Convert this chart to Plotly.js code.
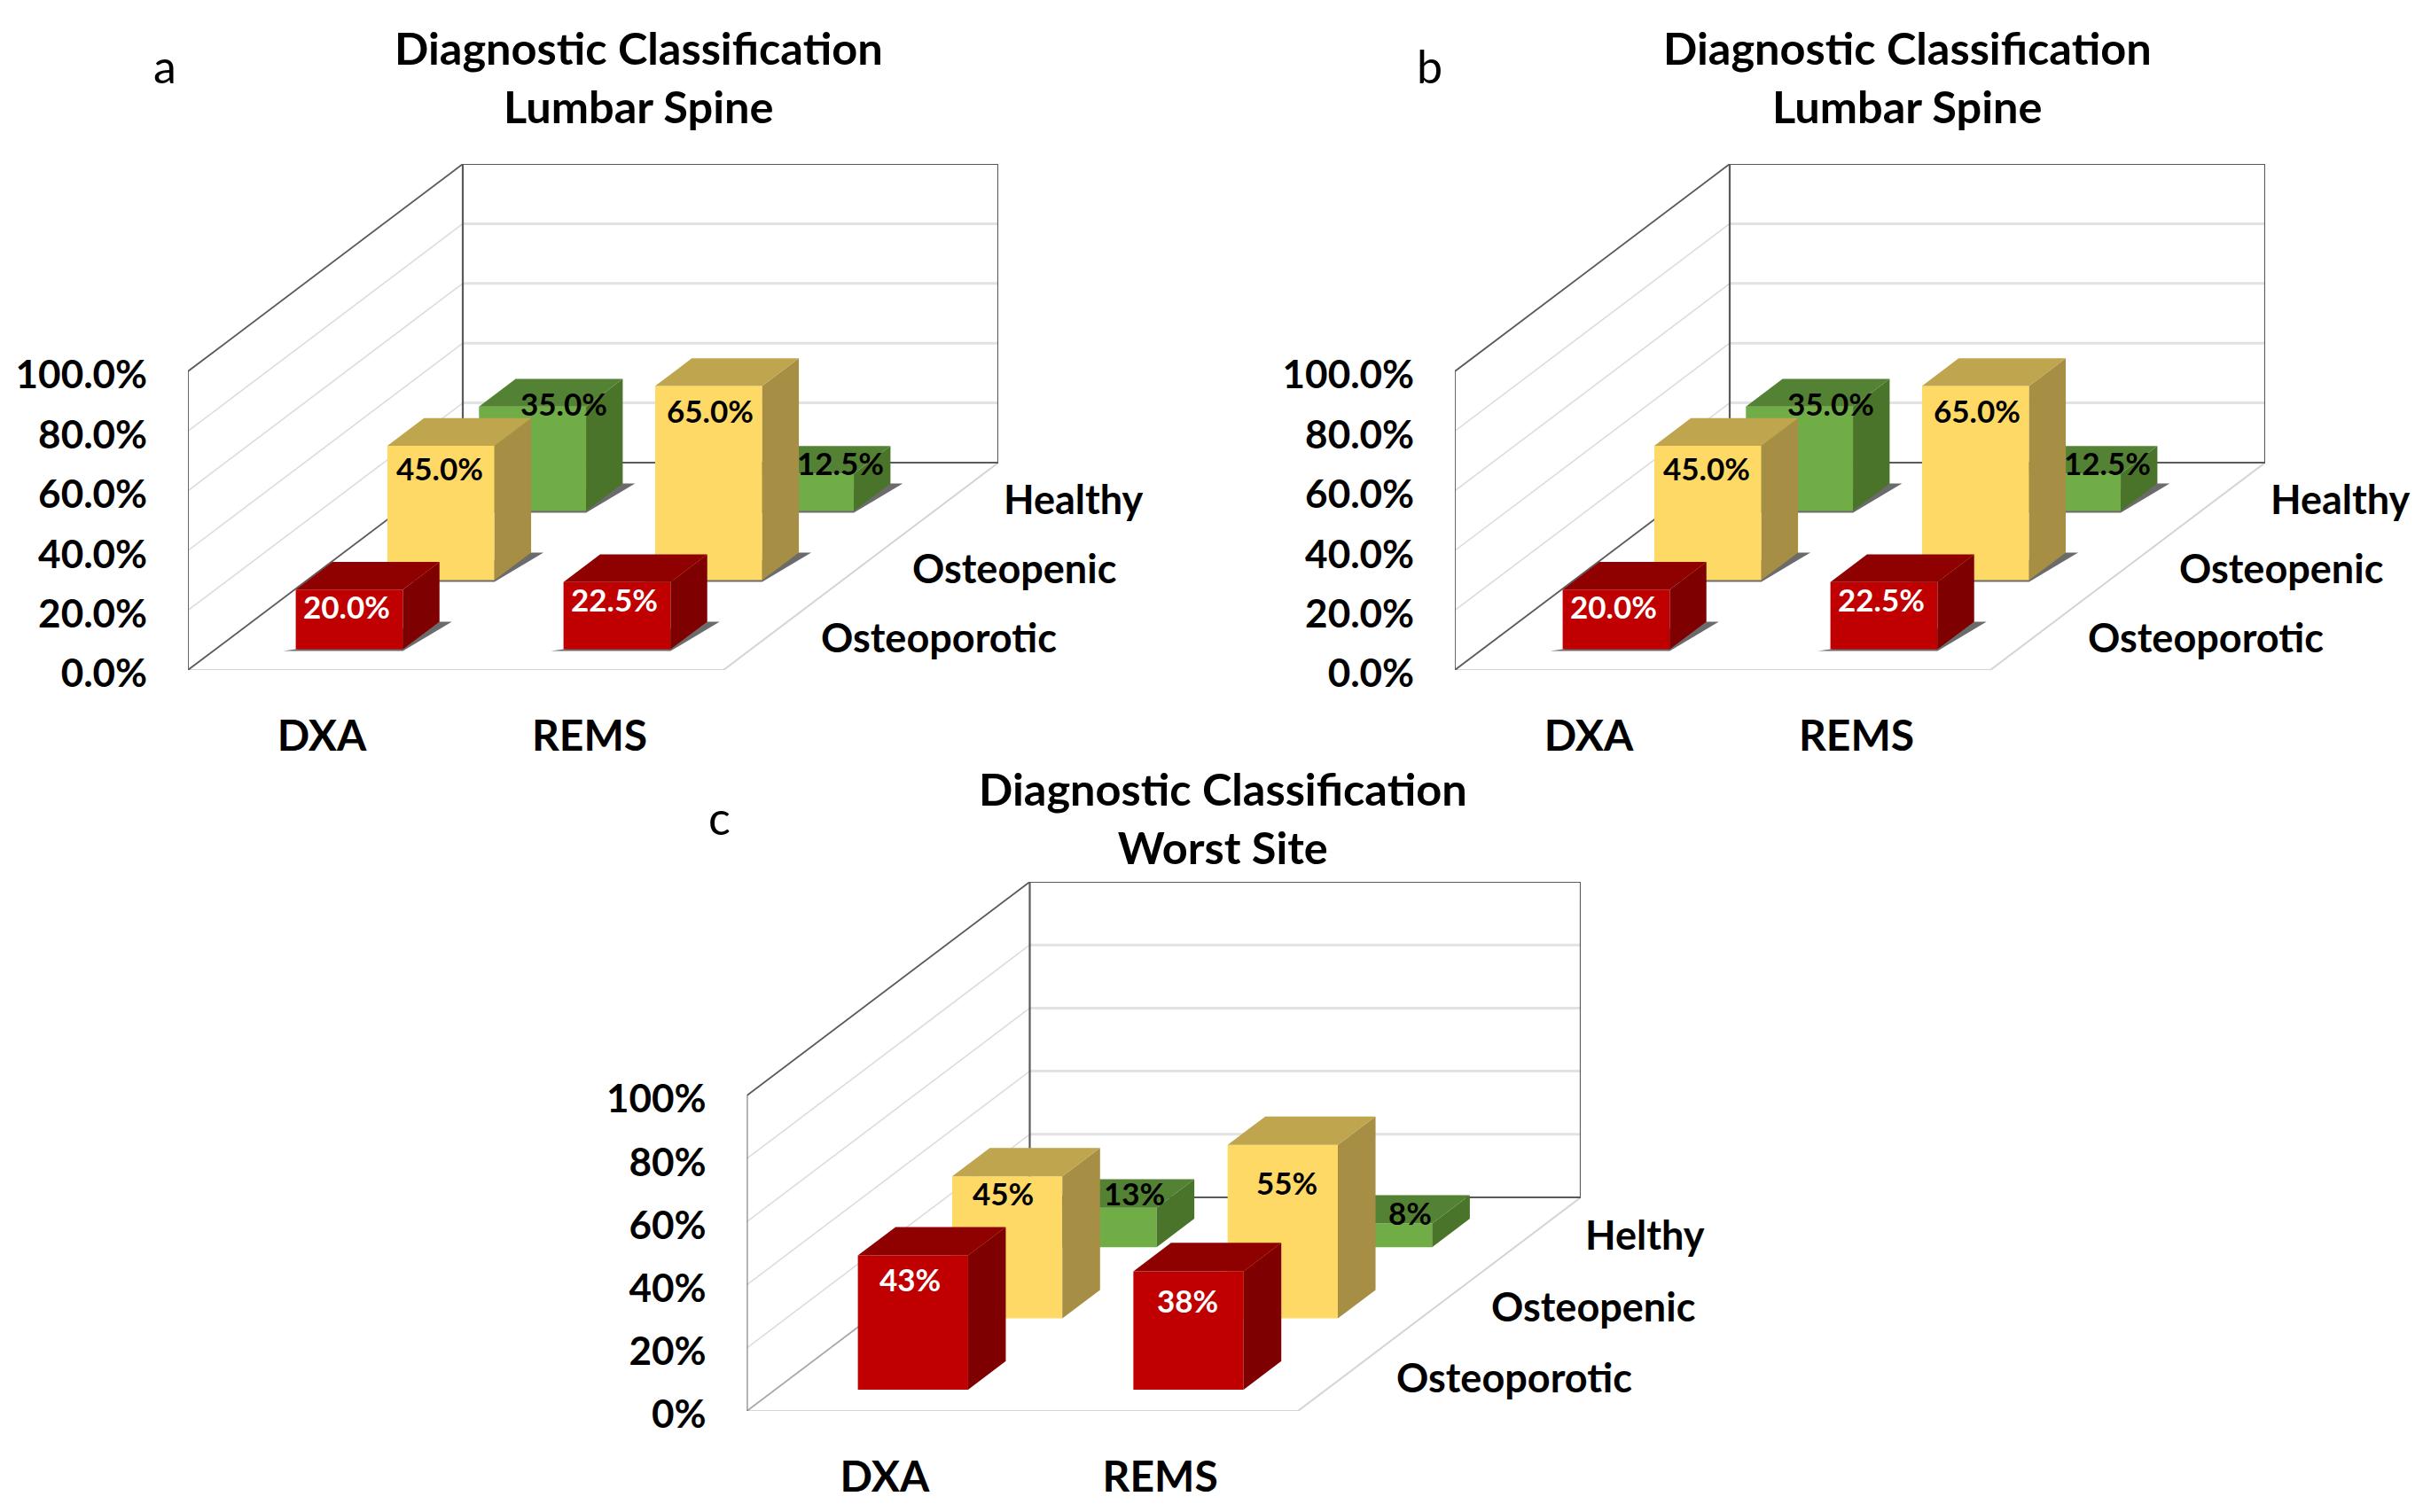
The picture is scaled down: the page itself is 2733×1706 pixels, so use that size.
<!DOCTYPE html>
<html><head><meta charset="utf-8">
<script src="https://cdn.plot.ly/plotly-3.0.1.min.js"></script>
<style>html,body{margin:0;padding:0;background:#fff}#c{width:2733px;height:1706px}</style>
</head><body><div id="c"></div>
<script>
// ---- data ----
const groups = ['DXA', 'REMS'];
const seriesA = ['Osteoporotic', 'Osteopenic', 'Healthy'];
const seriesC = ['Osteoporotic', 'Osteopenic', 'Helthy'];
const osteoporoticAB = [20.0, 22.5];
const osteopenicAB = [45.0, 65.0];
const healthyAB = [35.0, 12.5];
const osteoporoticC = [42.5, 37.5];
const osteopenicC = [45.0, 55.0];
const healthyC = [12.5, 7.5];
const textOsteoporoticAB = ['20.0%', '22.5%'];
const textOsteopenicAB = ['45.0%', '65.0%'];
const textHealthyAB = ['35.0%', '12.5%'];
const textOsteoporoticC = ['43%', '38%'];
const textOsteopenicC = ['45%', '55%'];
const textHealthyC = ['13%', '8%'];
const tickValues = [0, 20, 40, 60, 80, 100];
const tickTextAB = ['0.0%', '20.0%', '40.0%', '60.0%', '80.0%', '100.0%'];
const tickTextC = ['0%', '20%', '40%', '60%', '80%', '100%'];
const titleA = 'Diagnostic Classification<br>Lumbar Spine';
const titleC = 'Diagnostic Classification<br>Worst Site';

// ---- layout / style ----
const W = 2733, H = 1706;
const FONT = 'Lato, Carlito, sans-serif';
const faceColors = [
  {front:'#C00000', top:'#8F0000', side:'#7F0000', text:'#ffffff'},
  {front:'#FFD966', top:'#BFA54E', side:'#A68F45', text:'#000000'},
  {front:'#70AD47', top:'#548235', side:'#4A7429', text:'#000000'}
];
const DARK = '#5a5a5a', GRID = '#e2e2e2', WALLGRID = '#dcdcdc';
const shiftsAB = [[[-3,-19],[-3,-19]], [[-1,-25],[2,-27]], [[35,4],[45,12]]];
const shiftsC = [[[-3,-26],[-1,-33]], [[-5,-19],[5,-42]], [[37,17],[37,13]]];
const panels = [
 {id:'', x0:212, yb:756, w:604, dx:310, dy:234, ppu:3.37, vals:[osteoporoticAB,osteopenicAB,healthyAB],
  txt:[textOsteoporoticAB,textOsteopenicAB,textHealthyAB], ticks:tickTextAB, names:seriesA, shifts:shiftsAB, shadow:true,
  title:titleA, tx:720, ty:87, letter:'a', lx:186, ly:74, xs:56},
 {id:'2', x0:1641, yb:756, w:604, dx:310, dy:234, ppu:3.37, vals:[osteoporoticAB,osteopenicAB,healthyAB],
  txt:[textOsteoporoticAB,textOsteopenicAB,textHealthyAB], ticks:tickTextAB, names:seriesA, shifts:shiftsAB, shadow:true,
  title:titleA, tx:2151, ty:87, letter:'b', lx:1612, ly:74, xs:56},
 {id:'3', x0:842.5, yb:1592, w:621.5, dx:319, dy:241, ppu:3.56, vals:[osteoporoticC,osteopenicC,healthyC],
  txt:[textOsteoporoticC,textOsteopenicC,textHealthyC], ticks:tickTextC, names:seriesC, shifts:shiftsC, shadow:false,
  title:titleC, tx:1379, ty:922, letter:'c', lx:812, ly:922, xs:56}
];
const BW = 0.4, BD = 0.4 / 3;

const traces = [], annotations = [], layout = {
  width:W, height:H, margin:{l:0,r:0,t:0,b:0}, showlegend:false,
  paper_bgcolor:'#fff', plot_bgcolor:'rgba(0,0,0,0)', font:{family:FONT, color:'#000'}, hovermode:false
};

panels.forEach(p => {
  const xa = 'x'+p.id, ya = 'y'+p.id;
  const catW = p.w / 2, depthX = p.dx / catW, depthV = p.dy / p.ppu, vMax = (p.dy + 100*p.ppu) / p.ppu;
  const PX = (c, d) => c + d*depthX;
  const PY = (v, d) => v + d*depthV;
  layout['xaxis'+p.id] = {
    anchor:ya, domain:[p.x0/W, (p.x0+p.w+p.dx)/W], range:[0, 2+depthX], fixedrange:true,
    showgrid:false, zeroline:false, showline:false, ticks:'outside', ticklen:32, tickcolor:'rgba(0,0,0,0)',
    tickvals:[0.5,1.5], ticktext:groups, tickfont:{family:FONT, size:48, color:'#000', weight:700}
  };
  layout['yaxis'+p.id] = {
    anchor:xa, domain:[1-p.yb/H, 1-(p.yb-vMax*p.ppu)/H], range:[0, vMax], fixedrange:true,
    showgrid:false, zeroline:false, showline:false, ticks:'outside', ticklen:36, tickcolor:'rgba(0,0,0,0)',
    tickvals:tickValues, ticktext:p.ticks, tickfont:{family:FONT, size:44, color:'#000', weight:700}, ticklabelshift:4
  };
  const line = (xs, ys, color, width) => traces.push({type:'scatter', mode:'lines', xaxis:xa, yaxis:ya, x:xs, y:ys,
     line:{color, width}, hoverinfo:'skip', showlegend:false});
  const poly = (xs, ys, color) => traces.push({type:'scatter', mode:'lines', xaxis:xa, yaxis:ya, x:xs, y:ys, fill:'toself',
     fillcolor:color, line:{width:0, color}, hoverinfo:'skip', showlegend:false});

  // walls and gridlines
  tickValues.slice(1,-1).forEach(v => {
    line([PX(2,1),PX(0,1)],[PY(v,1),PY(v,1)], GRID, 3);
    line([PX(0,1),PX(0,0)],[PY(v,1),PY(v,0)], WALLGRID, 1.6);
  });
  line([PX(0,0),PX(2,0),PX(2,1)],[PY(0,0),PY(0,0),PY(0,1)], '#d4d4d4', 2);
  line([PX(0,0),PX(0,1)],[PY(0,0),PY(0,1)], p.shadow ? DARK : '#a8a8a8', 1.8);
  line([PX(0,1),PX(0,1),PX(2,1),PX(2,1),PX(0,1)],[PY(0,1),PY(100,1),PY(100,1),PY(0,1),PY(0,1)], DARK, 2.2);
  line([PX(0,0),PX(0,0),PX(0,1)],[PY(0,0),PY(100,0),PY(100,1)], DARK, 1.8);

  // bars, drawn from the back series to the front series
  [2,1,0].forEach(s => {
    const c = faceColors[s], d0 = (s+0.5)/3 - BD/2, d1 = d0 + BD;
    const sx=[], sy=[], fx=[], fy=[], tx=[], ty=[], rx=[], ry=[];
    const pxU = 1/catW, vU = 1/p.ppu;
    groups.forEach((g, i) => {
      const v = p.vals[s][i], a = i + 0.5 - BW/2, b = a + BW;
      sx.push(PX(a,d0)-14*pxU, PX(b,d0), PX(b,d1)+14*pxU, PX(b,d1), PX(a,d0), null);
      sy.push(PY(0,d0)-2*vU, PY(0,d0)-2*vU, PY(0,d1), PY(0,d1), PY(0,d0), null);
      fx.push(PX(a,d0),PX(b,d0),PX(b,d0),PX(a,d0),PX(a,d0),null);
      fy.push(PY(0,d0),PY(0,d0),PY(v,d0),PY(v,d0),PY(0,d0),null);
      tx.push(PX(a,d0),PX(b,d0),PX(b,d1),PX(a,d1),PX(a,d0),null);
      ty.push(PY(v,d0),PY(v,d0),PY(v,d1),PY(v,d1),PY(v,d0),null);
      rx.push(PX(b,d0),PX(b,d1),PX(b,d1),PX(b,d0),PX(b,d0),null);
      ry.push(PY(0,d0),PY(0,d1),PY(v,d1),PY(v,d0),PY(0,d0),null);
    });
    if (p.shadow) poly(sx, sy, 'rgba(70,70,70,0.8)');
    poly(fx, fy, c.front); poly(rx, ry, c.side); poly(tx, ty, c.top);
  });

  // value labels, placed from each bar's top front corner
  [2,1,0].forEach(s => {
    const d0 = (s+0.5)/3 - BD/2;
    groups.forEach((g, i) => {
      annotations.push({xref:xa, yref:ya, x:PX(i+0.5,d0), y:PY(p.vals[s][i],d0), text:p.txt[s][i], showarrow:false,
        xshift:p.shifts[s][i][0], yshift:p.shifts[s][i][1], xanchor:'center', yanchor:'middle',
        font:{family:FONT, size:35, color:faceColors[s].text, weight:700}});
    });
    // series labels beside the floor
    annotations.push({xref:xa, yref:ya, x:PX(2,(s+0.5)/3), y:PY(0,(s+0.5)/3), text:p.names[s], showarrow:false,
      xshift:p.xs, yshift:-2, xanchor:'left', yanchor:'middle', font:{family:FONT, size:45, color:'#000', weight:700}});
  });

  annotations.push({xref:'paper', yref:'paper', x:p.tx/W, y:1-p.ty/H, text:p.title, showarrow:false, xanchor:'center', yanchor:'middle',
    font:{family:FONT, size:50.5, color:'#000', weight:700}});
  annotations.push({xref:'paper', yref:'paper', x:p.lx/W, y:1-p.ly/H, text:p.letter, showarrow:false, xanchor:'center', yanchor:'middle',
    font:{family:FONT, size:52, color:'#000'}});
});
layout.annotations = annotations;
Plotly.newPlot('c', traces, layout, {displayModeBar:false, staticPlot:true});
</script></body></html>
